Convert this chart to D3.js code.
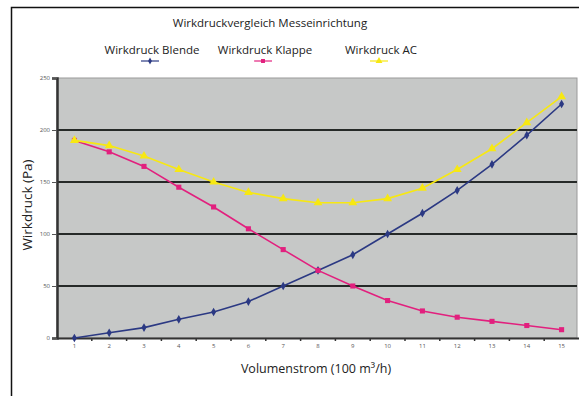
<!DOCTYPE html>
<html><head><meta charset="utf-8">
<script src="https://cdn.jsdelivr.net/npm/d3@7"></script>
<style>body{margin:0;background:#fff}svg{display:block}</style>
</head><body>
<svg id="c" width="579" height="396"></svg>
<script>
const categories = [1,2,3,4,5,6,7,8,9,10,11,12,13,14,15];
const blende = [0,5,10,18,25,35,50,65,80,100,120,142,167,195,225];
const klappe = [190,179,165,145,126,105,85,65,50,36,26,20,16,12,8];
const ac = [190,185,175,162,150,140,134,130,130,134,144,162,182,207,232];
const yTicks = [0,50,100,150,200,250];
const seriesNames = ["Wirkdruck Blende","Wirkdruck Klappe","Wirkdruck AC"];
const title = "Wirkdruckvergleich Messeinrichtung";
const xTitle = "Volumenstrom (100 m³/h)";
const yTitle = "Wirkdruck (Pa)";

const svg = d3.select("#c");
const font = "'Open Sans', sans-serif";
const L = 57, R = 579, T = 78, B = 338;

// outer frame
svg.append("rect").attr("x",11.5).attr("y",7.5).attr("width",600).attr("height",420)
  .attr("fill","none").attr("stroke","#111").attr("stroke-width",1.5);

const x = d3.scaleBand().domain(categories).range([L,R]);
const y = d3.scaleLinear().domain([0,250]).range([B,T]);

// plot background
svg.append("rect").attr("x",L).attr("y",T).attr("width",R-L-2).attr("height",B-T)
  .attr("fill","#c6c8c7").attr("stroke","#9a9a9a").attr("stroke-width",1);

// gridlines
svg.append("g").selectAll("line").data(yTicks.filter(d=>d>0 && d<250)).join("line")
  .attr("x1",L).attr("x2",R-2).attr("y1",d=>y(d)).attr("y2",d=>y(d))
  .attr("stroke","#262a28").attr("stroke-width",2);

// y axis
const yAxis = d3.axisLeft(y).tickValues(yTicks).tickSize(5).tickPadding(2);
const gy = svg.append("g").attr("transform",`translate(${L},0)`).call(yAxis);
gy.select(".domain").attr("stroke","#333").attr("stroke-width",2.5);
gy.selectAll(".tick line").attr("stroke","#555");
gy.selectAll("text").attr("font-family",font).attr("font-size",6).attr("fill","#555");

// x axis
const xAxis = d3.axisBottom(x).tickSize(0).tickPadding(6);
const gx = svg.append("g").attr("transform",`translate(0,${B})`).call(xAxis);
gx.select(".domain").attr("stroke","#333").attr("stroke-width",2);
gx.selectAll("text").attr("font-family",font).attr("font-size",6).attr("fill","#555");
// tick marks between categories
gx.append("g").selectAll("line").data(categories.slice(1)).join("line")
  .attr("x1",d=>x(d)).attr("x2",d=>x(d)).attr("y1",0).attr("y2",3)
  .attr("stroke","#333").attr("stroke-width",1.5);

const cx = d => x(d) + x.bandwidth()/2;
const line = d3.line().x((d,i)=>cx(categories[i])).y(d=>y(d));

const series = [
  {name:seriesNames[0], data:blende, color:"#2b3983", shape:d3.symbolDiamond, size:22},
  {name:seriesNames[1], data:klappe, color:"#e2207e", shape:d3.symbolSquare, size:26},
  {name:seriesNames[2], data:ac, color:"#f7e812", shape:d3.symbolTriangle, size:34}
];

series.forEach(s=>{
  svg.append("path").datum(s.data).attr("d",line).attr("fill","none")
    .attr("stroke",s.color).attr("stroke-width",1.6);
  svg.append("g").selectAll("path").data(s.data).join("path")
    .attr("transform",(d,i)=>`translate(${cx(categories[i])},${y(d)})`)
    .attr("d",d3.symbol().type(s.shape).size(s.size)).attr("fill",s.color);
});

// title
svg.append("text").attr("x",270).attr("y",27).attr("text-anchor","middle")
  .attr("font-family",font).attr("font-size",11.5).attr("fill","#222").text(title);

// legend
const legX = [152,265,381];
series.forEach((s,i)=>{
  svg.append("text").attr("x",legX[i]).attr("y",54).attr("text-anchor","middle")
    .attr("font-family",font).attr("font-size",11.5).attr("fill","#222").text(s.name);
  const mx = legX[i] - 2;
  svg.append("line").attr("x1",mx-9).attr("x2",mx+9).attr("y1",61).attr("y2",61)
    .attr("stroke",s.color).attr("stroke-width",1.2);
  svg.append("path").attr("transform",`translate(${mx},61)`)
    .attr("d",d3.symbol().type(s.shape).size(s.size*0.6)).attr("fill",s.color);
});

// axis titles
svg.append("text").attr("x",316).attr("y",373).attr("text-anchor","middle")
  .attr("font-family",font).attr("font-size",12.5).attr("fill","#222").text(xTitle);
svg.append("text").attr("transform","translate(32,205) rotate(-90)").attr("text-anchor","middle")
  .attr("font-family",font).attr("font-size",13.5).attr("fill","#222").text(yTitle);
</script>
</body></html>
